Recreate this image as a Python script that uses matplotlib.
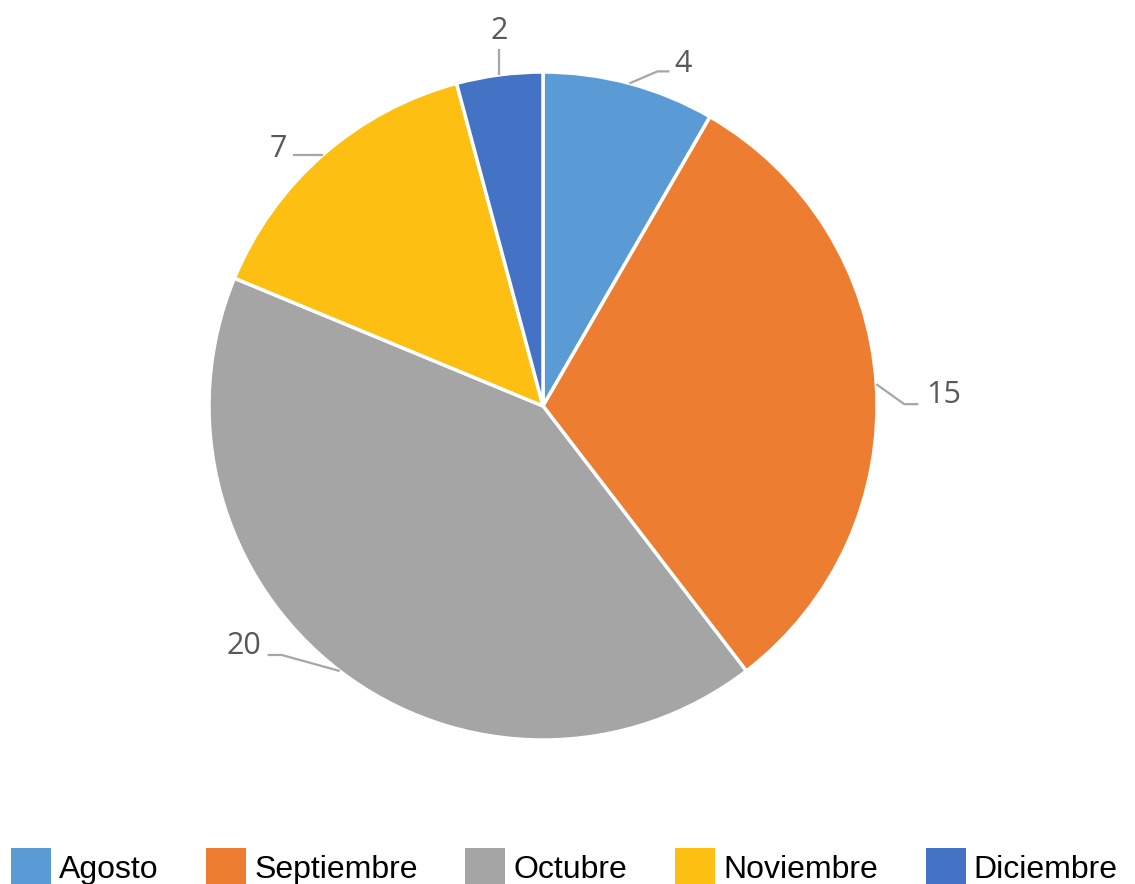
import matplotlib
matplotlib.use("Agg")
import matplotlib.pyplot as plt
import numpy as np
from matplotlib import font_manager

months = ["Agosto", "Septiembre", "Octubre", "Noviembre", "Diciembre"]
values = [4, 15, 20, 7, 2]
colors = ["#5B9BD5", "#ED7D31", "#A5A5A5", "#FCBF12", "#4472C4"]

W, H = 1135, 884
fig = plt.figure(figsize=(W / 100, H / 100), dpi=100)
ax = fig.add_axes([0, 0, 1, 1])
ax.set_xlim(0, W)
ax.set_ylim(0, H)
ax.set_aspect("equal")
ax.axis("off")

cx, cy, R = 543, H - 406, 334
wedges, _ = ax.pie(values, colors=colors, startangle=90, counterclock=False,
                   center=(cx, cy), radius=R,
                   wedgeprops=dict(edgecolor="white", linewidth=2.5))
ax.set_xlim(0, W)
ax.set_ylim(0, H)

label_font = "Open Sans"
styles = [
    dict(elbow=(28, 12), run=12, ha="left", tdx=5, tdy=7),    # 4
    dict(elbow=(28, -20), run=14, ha="left", tdx=8, tdy=9),   # 15
    dict(elbow=(-58, 16), run=-14, ha="right", tdx=-6, tdy=9),  # 20
    dict(elbow=(-30, 0), run=0, ha="right", tdx=-6, tdy=6),   # 7
    dict(elbow=(0, 26), run=0, ha="center", tdx=0, tdy=18),   # 2
]
for w, v, s in zip(wedges, values, styles):
    ang = np.deg2rad((w.theta1 + w.theta2) / 2)
    x0 = cx + R * np.cos(ang)
    y0 = cy + R * np.sin(ang)
    x1 = x0 + s["elbow"][0]
    y1 = y0 + s["elbow"][1]
    x2 = x1 + s["run"]
    ax.plot([x0, x1, x2], [y0, y1, y1], color="#A6A6A6", lw=1.6,
            solid_capstyle="butt", zorder=1)
    ax.text(x2 + s["tdx"], y1 + s["tdy"], str(v), ha=s["ha"], va="center",
            fontsize=22, color="#595959", family=label_font)

leg_font = "Liberation Sans Narrow"
names = {f.name for f in font_manager.fontManager.ttflist}
if leg_font not in names:
    leg_font = "Liberation Sans"

leg = fig.legend(wedges, months, loc="center", bbox_to_anchor=(0.497, 17 / H),
                 ncol=5, frameon=False, handlelength=1.25, handleheight=1.45,
                 handletextpad=0.25, columnspacing=1.5,
                 prop=dict(family=leg_font, size=23))
for h in leg.legend_handles:
    h.set_edgecolor("none")

fig.savefig("out.png", dpi=100)
